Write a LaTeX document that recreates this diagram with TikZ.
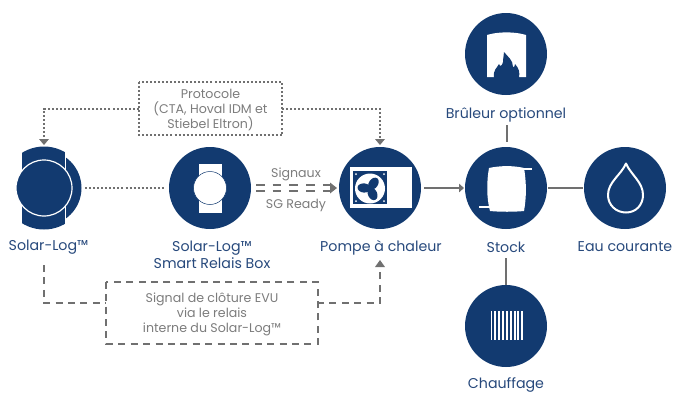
\documentclass[tikz,border=0pt]{standalone}
\usepackage{fontspec}
\setmainfont{Poppins}
\usetikzlibrary{arrows.meta}
\definecolor{navy}{HTML}{123A70}
\definecolor{labelblue}{HTML}{27497C}
\definecolor{graytxt}{HTML}{7C7C7C}
\definecolor{conn}{HTML}{707070}
\tikzset{
  disc/.style={circle,fill=navy,minimum size=82pt,inner sep=0pt,outer sep=0pt},
  lbl/.style={text=labelblue,font=\fontsize{14.2}{17}\selectfont,align=center,inner sep=0pt},
  note/.style={text=graytxt,font=\fontsize{12.6}{15}\selectfont,align=center,inner sep=0pt},
  plainline/.style={draw=conn,line width=2pt},
  dotline/.style={draw=conn,line width=2pt,dash pattern=on 2pt off 2.05pt},
  dashline/.style={draw=conn,line width=2pt,dash pattern=on 7pt off 5.4pt},
  tip/.style={-{Triangle[length=5pt,width=8.5pt]}},
  icon/.style={fill=white,draw=none},
}
\begin{document}
\begin{tikzpicture}[x=1pt,y=-1pt]
\useasboundingbox (0,0) rectangle (673,392);
% discs
\node[disc] (relais) at (210,188) {};
\node[disc] (pompe) at (380,188) {};
\node[disc] (stock) at (506,188) {};
\node[disc] (eau) at (625,188) {};
\node[disc] (bruleur) at (506,54) {};
\node[disc] (chauffage) at (506,326) {};
% Solar-Log device
\coordinate (solar) at (44,188);
\begin{scope}
\clip (60,140) rectangle (90,235);
\fill[navy] (solar) circle (37.5);
\end{scope}
\begin{scope}
\clip (22,140) rectangle (65,235);
\fill[navy] (solar) circle (41.5);
\end{scope}
\draw[white,line width=0.5pt] (65,147) -- (65,229);
\fill[navy,draw=white,line width=1.2pt] (solar) circle (28);
% Relais icon
\fill[icon] (199,164) rectangle (222,213);
\draw[navy,line width=0.5pt,fill=white] (210,188) circle (16.5);
% Pump icon
\fill[icon] (350,167) rectangle (412,208);
\fill[navy] (353,171) rectangle (387,204);
\fill[white] (370,188.5) circle (15);
\foreach \a in {-65,55,175}{
  \fill[navy,rotate around={\a:(370,188.5)}] (376,188.5) ellipse (6.5 and 4.6);
}
\foreach \p in {(356,174),(384,174),(356,201),(384,201)}{\fill[white] \p circle (1);}
% Storage icon
\fill[icon] (489,168) .. controls (500,165.5) and (514,165.5) .. (524,168)
  .. controls (526.5,182) and (526.5,198) .. (524,211)
  .. controls (514,212) and (500,212) .. (490,211)
  .. controls (486.5,198) and (486.5,182) .. (489,168) -- cycle;
\draw[white,line width=1.4pt] (522,169) -- (532,169) (479,207) -- (491,207);
% Drop icon
\draw[white,line width=2pt,line join=round] (626,163.5)
  .. controls (621,175) and (608,182) .. (608,195)
  .. controls (608,205) and (616,212.5) .. (626,212.5)
  .. controls (636,212.5) and (643,205) .. (643,195)
  .. controls (643,182) and (631,175) .. (626,163.5) -- cycle;
% Burner icon
\fill[icon] (487,35) .. controls (498,31.5) and (515,31.5) .. (526,35) -- (526,77) -- (487,77) -- cycle;
\fill[navy] (494,77) .. controls (493,70) and (497,68) .. (499,64)
  .. controls (500,67) and (502,66) .. (503,62)
  .. controls (503,58) and (504,55) .. (504,52)
  .. controls (508,57) and (513,60) .. (513,67)
  .. controls (514,68) and (515,66) .. (515,64)
  .. controls (519,68) and (520,73) .. (519,77) -- (519,79) -- (494,79) -- cycle;
% Heating icon
\foreach \i in {0,...,8}{\fill[white] ({490.5+3.85*\i},311) rectangle ({492.4+3.85*\i},340);}
% Solid connectors
\draw[plainline,tip,shorten <=3pt,shorten >=1pt] (pompe) -- (stock);
\draw[plainline,shorten <=1pt,shorten >=1pt] (stock) -- (eau);
\coordinate (brend) at (507,125);
\draw[plainline] (brend) -- (507,142);
\coordinate (chtop) at (506,258);
\draw[plainline] (chtop) -- (chauffage.north);
% Dotted box and connectors
\node[minimum width=143pt,minimum height=53pt,inner sep=0pt] (proto) at (210.5,108.5) {};
\draw[dotline] (proto.north west) rectangle (proto.south east);
\node[note] (protot) at (210.5,110.5) {Protocole\\(CTA, Hoval IDM et\\Stiebel Eltron)};
\draw[dotline] (proto.west) -| (44,139);
\fill[conn] (39,139) -- (49,139) -- (44,145) -- cycle;
\draw[dotline] (proto.east) -| (380,139);
\fill[conn] (375,139) -- (385,139) -- (380,145) -- cycle;
\draw[dotline] (85,188) -- (165,188);
% Signal double dashed arrow
\coordinate (sga) at (256,185);\coordinate (sgb) at (256,191);
\draw[conn,line width=2pt,dash pattern=on 8.5pt off 8.2pt] (sga) -- (331,185);
\draw[conn,line width=2pt,dash pattern=on 8.5pt off 8.2pt] (sgb) -- (331,191);
\fill[conn] (330,182.5) -- (337,188) -- (330,193.5) -- cycle;
\node[note] (sig) at (296,174.5) {Signaux};
\node[note] (sgr) at (296,205) {SG Ready};
% Dashed box and connectors
\node[minimum width=211pt,minimum height=62pt,inner sep=0pt] (evu) at (212,313) {};
\draw[dashline] (evu.north west) rectangle (evu.south east);
\node[note] (evut) at (212,314) {Signal de clôture EVU\\via le relais\\interne du Solar-Log™};
\coordinate (dstart) at (44,265);
\coordinate (evl) at (106,303);
\coordinate (evr) at (317,303);
\draw[dashline] (dstart) |- (evl);
\coordinate (darrow) at (380,266);
\draw[dashline] (evr) -| (darrow);
\fill[conn] (375,267) -- (385,267) -- (380,260) -- cycle;
% Labels
\node[lbl] (l1) at (48.5,247.5) {Solar-Log™};
\node[lbl] (l2) at (212,255) {Solar-Log™\\Smart Relais Box};
\node[lbl] (l3) at (381,247.5) {Pompe à chaleur};
\node[lbl] (l4) at (506,247) {Stock};
\node[lbl] (l5) at (625,246.5) {Eau courante};
\node[lbl] (l6) at (506,115) {Brûleur optionnel};
\node[lbl] (l7) at (506,384.5) {Chauffage};
\end{tikzpicture}
\end{document}
